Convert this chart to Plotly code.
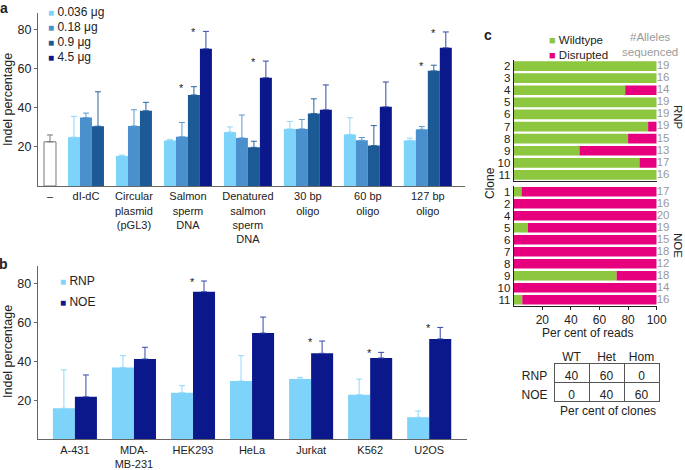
import plotly.graph_objects as go

W, H = 685, 470
FONT = "Liberation Sans, Arial, sans-serif"

# ---------------- Panel a data ----------------
a_categories = ["–", "dI-dC", "Circular<br>plasmid<br>(pGL3)", "Salmon<br>sperm<br>DNA",
                "Denatured<br>salmon<br>sperm<br>DNA", "30 bp<br>oligo", "60 bp<br>oligo", "127 bp<br>oligo"]
a_series = ["0.036 μg", "0.18 μg", "0.9 μg", "4.5 μg"]
a_control = 22.6
a_control_sd = 3.5
a_036 = [None, 25.0, 15.4, 23.3, 27.6, 29.2, 26.4, 23.3]
a_036_sd = [None, 10.6, 0.4, 0.4, 2.6, 3.8, 8.5, 1.2]
a_018 = [None, 35.0, 30.7, 25.2, 24.6, 29.2, 23.4, 29.0]
a_018_sd = [None, 2.3, 8.3, 7.3, 11.7, 4.8, 1.4, 1.4]
a_09 = [None, 30.6, 38.5, 46.6, 19.8, 37.1, 20.7, 58.9]
a_09_sd = [None, 17.6, 4.3, 4.2, 3.1, 7.5, 10.2, 2.9]
a_45 = [None, None, None, 70.2, 55.4, 39.0, 40.5, 70.7]
a_45_sd = [None, None, None, 8.9, 8.5, 12.7, 12.7, 8.1]
a_signif = [(3, 2), (3, 3), (4, 3), (7, 2), (7, 3)]  # (category, series)

# ---------------- Panel b data ----------------
b_categories = ["A-431", "MDA-<br>MB-231", "HEK293", "HeLa", "Jurkat", "K562", "U2OS"]
b_rnp = [15.9, 36.8, 23.9, 29.9, 30.9, 22.9, 11.3]
b_rnp_sd = [19.7, 6.1, 3.6, 13.0, 0.9, 8.0, 3.2]
b_noe = [21.8, 41.2, 75.7, 54.5, 44.1, 41.7, 51.5]
b_noe_sd = [11.2, 6.0, 5.5, 8.2, 6.3, 2.9, 5.9]
b_signif = [False, False, True, False, True, True, True]

# ---------------- Panel c data ----------------
c_rnp_clones = ["2", "3", "4", "5", "6", "7", "8", "9", "10", "11"]
c_rnp_wt = [100, 100, 78, 100, 100, 94, 80, 46, 88, 100]
c_rnp_alleles = [19, 16, 14, 19, 19, 19, 15, 13, 17, 16]
c_noe_clones = ["1", "2", "4", "5", "6", "7", "8", "9", "10", "11"]
c_noe_wt = [5.5, 0, 0, 10, 0, 0, 0, 72, 0, 6]
c_noe_alleles = [17, 16, 20, 19, 15, 18, 12, 18, 14, 16]

t_columns = ["WT", "Het", "Hom"]
t_rows = ["RNP", "NOE"]
t_rnp = [40, 60, 0]
t_noe = [0, 40, 60]

# ---------------- styles ----------------
a_colors = ["#7dd3fa", "#4a90cd", "#1c5a96", "#0a188c"]
a_err_colors = ["#8fd8fa", "#5a9ad2", "#2a669f", "#3848a6"]
GREEN, PINK = "#8dc63f", "#e6007e"
GRAY_TXT = "#9a9a9a"
AX = "#666666"


def px(x):
    return x / W


def py(y):
    return 1 - y / H


fig = go.Figure()

# ---- panel a: bar positions computed from which series are present ----
a_vals = [a_036, a_018, a_09, a_45]
a_sds = [a_036_sd, a_018_sd, a_09_sd, a_45_sd]
GAP = 1.0
positions = {}
centers = [0.0]
cursor = 0.5 + GAP
for i in range(1, len(a_categories)):
    present = [s for s in range(4) if a_vals[s][i] is not None]
    for k, s in enumerate(present):
        positions[(i, s)] = cursor + 0.5 + k
    centers.append(cursor + len(present) / 2)
    cursor += len(present) + GAP

fig.add_trace(go.Bar(x=[0.0], y=[a_control], width=1, name="–",
                     marker=dict(color="white", line=dict(color="#777", width=1)),
                     error_y=dict(type="data", array=[a_control_sd], arrayminus=[0], symmetric=False,
                                  color="#777", thickness=1, width=3),
                     xaxis="x", yaxis="y", showlegend=False))
for s in range(4):
    xs, ys, es = [], [], []
    for i in range(1, len(a_categories)):
        if a_vals[s][i] is not None:
            xs.append(positions[(i, s)])
            ys.append(a_vals[s][i])
            es.append(a_sds[s][i])
    fig.add_trace(go.Bar(x=xs, y=ys, width=1, name=a_series[s],
                         marker=dict(color=a_colors[s], line=dict(width=0)),
                         error_y=dict(type="data", array=es, arrayminus=[0] * len(es), symmetric=False,
                                      color=a_err_colors[s], thickness=1, width=3),
                         xaxis="x", yaxis="y", showlegend=False))

# ---- panel b ----
BW = 0.373
fig.add_trace(go.Bar(x=b_categories, y=b_rnp, width=BW, offset=-BW, name="RNP",
                     marker=dict(color=a_colors[0], line=dict(width=0)),
                     error_y=dict(type="data", array=b_rnp_sd, arrayminus=[0] * 7, symmetric=False,
                                  color="#8fd8fa", thickness=1, width=3),
                     xaxis="x2", yaxis="y2", showlegend=False))
fig.add_trace(go.Bar(x=b_categories, y=b_noe, width=BW, offset=0, name="NOE",
                     marker=dict(color=a_colors[3], line=dict(width=0)),
                     error_y=dict(type="data", array=b_noe_sd, arrayminus=[0] * 7, symmetric=False,
                                  color="#3848a6", thickness=1, width=3),
                     xaxis="x2", yaxis="y2", showlegend=False))

# ---- panel c ----
for clones, wt, alleles, xa, ya in [(c_rnp_clones, c_rnp_wt, c_rnp_alleles, "x3", "y3"),
                                     (c_noe_clones, c_noe_wt, c_noe_alleles, "x4", "y4")]:
    fig.add_trace(go.Bar(y=clones, x=wt, orientation="h", width=0.8, name="Wildtype",
                         marker=dict(color=GREEN, line=dict(width=0)), xaxis=xa, yaxis=ya, showlegend=False))
    fig.add_trace(go.Bar(y=clones, x=[100 - w for w in wt], base=wt, orientation="h", width=0.8,
                         name="Disrupted", marker=dict(color=PINK, line=dict(width=0)),
                         xaxis=xa, yaxis=ya, showlegend=False))
    fig.add_trace(go.Scatter(y=clones, x=[100] * len(clones), mode="text", text=[str(a) for a in alleles],
                             textposition="middle right", cliponaxis=False,
                             textfont=dict(color=GRAY_TXT, size=11.5, family=FONT),
                             xaxis=xa, yaxis=ya, showlegend=False, hoverinfo="skip"))

# ---- table ----
fig.add_trace(go.Table(
    domain=dict(x=[px(515), px(659.3)], y=[py(440), py(344.3)]),
    columnwidth=[39, 35, 35, 35],
    header=dict(values=[""] + t_columns, height=19, align="center",
                fill=dict(color="white"), line=dict(width=0, color="white"),
                font=dict(size=12, family=FONT, color="#222")),
    cells=dict(values=[t_rows, [t_rnp[0], t_noe[0]], [t_rnp[1], t_noe[1]], [t_rnp[2], t_noe[2]]],
               height=19, align="center", fill=dict(color="white"),
               line=dict(color=["white", "#555", "#555", "#555"], width=[0, 1, 1, 1]),
               font=dict(size=12, family=FONT, color="#222")),
))

# ---------------- annotations ----------------
ann = []


def text(x, y, t, size=12, color="#222", xanchor="center", yanchor="middle", angle=0, **kw):
    ann.append(dict(x=px(x), y=py(y), xref="paper", yref="paper", text=t, showarrow=False,
                    font=dict(size=size, color=color, family=FONT), xanchor=xanchor,
                    yanchor=yanchor, textangle=angle, **kw))


text(4, 8, "<b>a</b>", size=14)
text(4, 264, "<b>b</b>", size=14)
text(488, 35, "<b>c</b>", size=14)
text(8, 100, "Indel percentage", size=12.5, angle=-90)
text(8, 352, "Indel percentage", size=12.5, angle=-90)

for k, (name, col) in enumerate(zip(a_series, a_colors)):
    text(46, 12 + 15 * k, f"<span style='color:{col};font-size:10px'>■</span> {name}", size=12, xanchor="left")
for k, (name, col) in enumerate([("RNP", a_colors[0]), ("NOE", a_colors[3])]):
    text(58, 281 + 21 * k, f"<span style='color:{col};font-size:10px'>■</span> {name}", size=12, xanchor="left")
text(547, 47.5, f"<span style='color:{GREEN};font-size:11px'>■</span> Wildtype<br>"
                f"<span style='color:{PINK};font-size:11px'>■</span> Disrupted",
     size=11.5, xanchor="left", align="left")
text(650, 44, "#Alleles<br>sequenced", size=11.5, color=GRAY_TXT)
text(490, 183, "Clone", size=12, angle=-90)
text(678, 117, "RNP", size=11.5, angle=90)
text(678, 245, "NOE", size=11.5, angle=90)
text(587, 333, "Per cent of reads", size=12)
text(608, 411, "Per cent of clones", size=12)

# significance stars
for (i, s) in a_signif:
    ann.append(dict(x=positions[(i, s)] - 1, y=a_vals[s][i] + a_sds[s][i], xref="x", yref="y",
                    text="*", showarrow=False, font=dict(size=11, color="#222", family=FONT),
                    yanchor="middle", yshift=-1))
for j, sig in enumerate(b_signif):
    if sig:
        ann.append(dict(x=b_categories[j], y=b_noe[j] + b_noe_sd[j], xref="x2", yref="y2",
                        text="*", showarrow=False, font=dict(size=11, color="#222", family=FONT),
                        yanchor="middle", yshift=-1, xshift=-1))

axis_common = dict(showgrid=False, zeroline=False, showline=True, linecolor=AX, linewidth=1,
                   automargin=False, tickfont=dict(size=11, family=FONT, color="#222"))
ytick_font = dict(size=12.5, family=FONT, color="#222")
c_axis = dict(showgrid=False, zeroline=False, showline=True, linecolor="#222", linewidth=1,
              automargin=False)

fig.update_layout(
    width=W, height=H, autosize=False,
    margin=dict(l=0, r=0, t=0, b=0, pad=0),
    paper_bgcolor="white", plot_bgcolor="white",
    barmode="overlay", showlegend=False,
    font=dict(family=FONT, color="#222"),
    xaxis=dict(domain=[px(38), px(465)], range=[-1.0, 34.6], anchor="y",
               tickmode="array", tickvals=centers, ticktext=a_categories, ticks="", **axis_common),
    yaxis=dict(domain=[py(186), py(13)], range=[0, 88.5], anchor="x",
               tickmode="array", tickvals=[20, 40, 60, 80], ticks="outside", ticklen=3, tickcolor=AX,
               **{**axis_common, "tickfont": ytick_font}),
    xaxis2=dict(domain=[px(37.7), px(467)], range=[-0.63, 6.64], anchor="y2", type="category",
                ticks="", **axis_common),
    yaxis2=dict(domain=[py(439.3), py(266)], range=[0, 88.9], anchor="x2",
                tickmode="array", tickvals=[20, 40, 60, 80], ticks="outside", ticklen=3, tickcolor=AX,
                **{**axis_common, "tickfont": ytick_font}),
    xaxis3=dict(domain=[px(513.7), px(656.7)], range=[0, 100], anchor="y3", showticklabels=False,
                ticks="", **c_axis),
    yaxis3=dict(domain=[py(181), py(60)], anchor="x3", type="category", autorange="reversed",
                categoryorder="array", categoryarray=c_rnp_clones, ticks="",
                tickmode="array", tickvals=c_rnp_clones, ticktext=c_rnp_clones,
                tickfont=dict(size=11.5, family=FONT, color="#222"), **c_axis),
    xaxis4=dict(domain=[px(513.7), px(656.7)], range=[0, 100], anchor="y4",
                tickmode="array", tickvals=[20, 40, 60, 80, 100], ticks="outside", ticklen=3,
                tickcolor="#222", tickfont=dict(size=12, family=FONT, color="#222"), **c_axis),
    yaxis4=dict(domain=[py(305.7), py(185.7)], anchor="x4", type="category", autorange="reversed",
                categoryorder="array", categoryarray=c_noe_clones, ticks="",
                tickmode="array", tickvals=c_noe_clones, ticktext=c_noe_clones,
                tickfont=dict(size=11.5, family=FONT, color="#222"), **c_axis),
    annotations=ann,
)

fig.write_html("out.html", config={"displayModeBar": False},
               post_script="document.body.style.margin='0';document.body.style.overflow='hidden';")
